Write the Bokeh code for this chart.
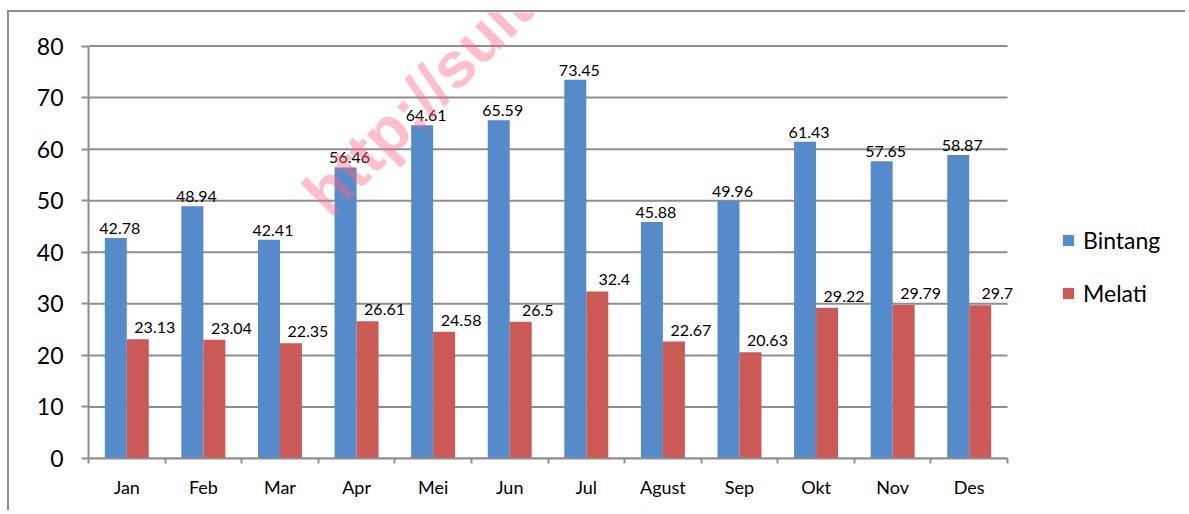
from bokeh.plotting import figure
from bokeh.models import (ColumnDataSource, LabelSet, Legend, LegendItem, Label,
                          FixedTicker, Range1d)
from bokeh.core.properties import value
from bokeh.embed import file_html
from bokeh.resources import INLINE

months = ["Jan", "Feb", "Mar", "Apr", "Mei", "Jun", "Jul", "Agust", "Sep", "Okt", "Nov", "Des"]
bintang = [42.78, 48.94, 42.41, 56.46, 64.61, 65.59, 73.45, 45.88, 49.96, 61.43, 57.65, 58.87]
melati = [23.13, 23.04, 22.35, 26.61, 24.58, 26.5, 32.4, 22.67, 20.63, 29.22, 29.79, 29.7]
y_ticks = [0, 10, 20, 30, 40, 50, 60, 70, 80]
series_names = ["Bintang", "Melati"]
watermark = "http://sulte"

FONT = "Lato"
BLUE = "#558ACB"
RED = "#CB5A57"
GRID = "#8E8E8E"
BAR_W = 0.287
N = len(months)

centers = [i + 0.5 for i in range(N)]
src = ColumnDataSource(dict(
    xb=[c - BAR_W / 2 for c in centers],
    xm=[c + BAR_W / 2 for c in centers],
    bintang=bintang,
    melati=melati,
    lb=[str(v) for v in bintang],
    lm=[str(v) for v in melati],
))

# The frame covers the whole canvas to the top and right (so the watermark and the
# legend are not clipped); axes are bounded so the chart itself ends at Des / 80.
p = figure(width=1178, height=500, output_backend="svg", toolbar_location=None,
           x_range=Range1d(0, 14.35), y_range=Range1d(y_ticks[0], 86.5),
           min_border_left=79, min_border_right=0, min_border_top=0, min_border_bottom=54)
p.outline_line_color = None
p.background_fill_color = "white"
p.border_fill_color = "white"
p.styles = {"border-left": "2px solid #8E8E8E", "border-top": "2px solid #8E8E8E",
            "margin-left": "7px", "margin-top": "10px"}

# horizontal gridlines, limited to the category span
p.xgrid.grid_line_color = None
p.ygrid.grid_line_color = None
p.segment(x0=[0] * len(y_ticks), x1=[N] * len(y_ticks), y0=y_ticks, y1=y_ticks,
          line_color=GRID, line_width=2)

rb = p.vbar(x="xb", top="bintang", width=BAR_W, source=src, fill_color=BLUE, line_color=None)
rm = p.vbar(x="xm", top="melati", width=BAR_W, source=src, fill_color=RED, line_color=None)

# axes
xa = p.xaxis[0]
xa.bounds = (0, N)
xa.ticker = FixedTicker(ticks=centers, minor_ticks=list(range(N + 1)))
xa.major_label_overrides = {c: m for c, m in zip(centers, months)}
xa.major_tick_line_color = None
xa.minor_tick_line_color = GRID
xa.minor_tick_line_width = 2
xa.minor_tick_out = 5
xa.minor_tick_in = 0
xa.axis_line_color = GRID
xa.axis_line_width = 2
xa.major_label_text_font = FONT
xa.major_label_text_font_size = "18px"
xa.major_label_text_color = "black"
xa.major_label_standoff = 11

ya = p.yaxis[0]
ya.ticker = FixedTicker(ticks=y_ticks)
ya.bounds = (y_ticks[0], y_ticks[-1])
ya.major_tick_line_color = GRID
ya.major_tick_line_width = 2
ya.major_tick_out = 7
ya.major_tick_in = 0
ya.minor_tick_line_color = None
ya.axis_line_color = GRID
ya.axis_line_width = 2
ya.major_label_text_font = FONT
ya.major_label_text_font_size = "23px"
ya.major_label_text_color = "black"
ya.major_label_standoff = 18

# data labels
lab_b = LabelSet(x="xb", y="bintang", text="lb", source=src, text_align="center",
                 text_baseline="alphabetic", x_offset=4, y_offset=4,
                 text_font=value(FONT), text_font_size="16px", text_color="black")
lab_m = LabelSet(x="xm", y="melati", text="lm", source=src, text_align="center",
                 text_baseline="alphabetic", x_offset=17, y_offset=6,
                 text_font=value(FONT), text_font_size="16px", text_color="black")
p.add_layout(lab_b)
p.add_layout(lab_m)

# watermark
p.add_layout(Label(x=2.95, y=49.4, text=watermark, angle=45, angle_units="deg",
                   text_baseline="alphabetic",
                   text_font="Liberation Sans", text_font_style="bold",
                   text_font_size="64px", text_color="#FF6680", text_alpha=0.42))

legend = Legend(items=[LegendItem(label=series_names[0], renderers=[rb]),
                       LegendItem(label=series_names[1], renderers=[rm])],
                location=(973, 151), orientation="vertical",
                padding=0, margin=0, spacing=25, label_standoff=8,
                glyph_width=14, glyph_height=14,
                label_text_font=FONT, label_text_font_size="23px",
                label_text_color="black",
                border_line_color=None, background_fill_alpha=0)
p.add_layout(legend)

open("out.html", "w").write(file_html(p, INLINE))
